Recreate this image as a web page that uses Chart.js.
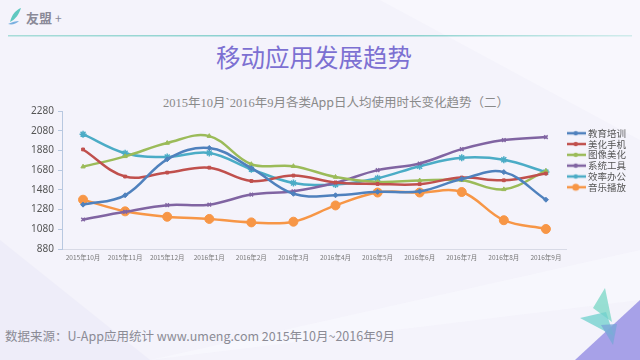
<!DOCTYPE html>
<html><head><meta charset="utf-8">
<script src="https://cdn.jsdelivr.net/npm/chart.js@4"></script>
<style>
html,body{margin:0;padding:0;width:640px;height:360px;overflow:hidden;background:#f4f3fb;font-family:"Noto Sans CJK SC","Noto Sans",sans-serif;}
#bg{position:absolute;left:0;top:0;}
#wrap{position:absolute;left:0;top:101px;width:640px;height:166px;}
.t{position:absolute;white-space:nowrap;}
</style></head><body>
<svg id="bg" width="640" height="360">
<defs>
<linearGradient id="hl" x1="0" x2="1" y1="0" y2="0">
<stop offset="0" stop-color="#9fdad5" stop-opacity="0.9"/>
<stop offset="0.32" stop-color="#8fd3d0"/>
<stop offset="0.5" stop-color="#7fc4d8"/>
<stop offset="0.66" stop-color="#8fd3d0"/>
<stop offset="1" stop-color="#b6e4e0" stop-opacity="0.6"/>
</linearGradient>
</defs>
<polygon points="0,240 0,360 150,360" fill="#eeedf9"/>
<polygon points="380,0 640,0 640,140" fill="#f8f7fd"/>
<polygon points="150,360 640,300 640,250" fill="#f8f8fd" opacity="0.7"/>
<rect x="8" y="35" width="624" height="1.5" fill="url(#hl)"/>
<polygon points="575,360 640,300 640,360" fill="#a7a1e8"/>
<polygon points="593,308 605,288 612,322" fill="#7fd8c8" opacity="0.8"/>
<polygon points="580,318 606,312 614,336" fill="#6fd0cc" opacity="0.75"/>
<polygon points="601,325 617,324 613,345" fill="#7aa6d8" opacity="0.8"/>
<path d="M10,22 C12,14 16,10 21,8 C19,14 16,19 10,22 Z" fill="#5fc8c0"/>
<path d="M8,24 C12,22 16,21 19,21 C16,24 12,25 8,24 Z" fill="#7ab0e0"/>
</svg>
<div class="t" style="left:26px;top:8px;font-size:13px;font-weight:bold;color:#8a8a98;">友盟<span style="font-weight:normal;font-size:12px;margin-left:3px;">+</span></div>
<div class="t" style="left:0;width:628px;text-align:center;top:41px;font-size:24.5px;color:#7c70d2;line-height:32px;">移动应用发展趋势</div>
<div class="t" style="left:0;width:672px;text-align:center;top:93px;font-size:12.5px;color:#8a8a8a;font-family:'Liberation Serif','Noto Sans CJK SC',serif;line-height:18px;">2015年10月`2016年9月各类<span style="font-family:'Noto Sans CJK SC'">App</span>日人均使用时长变化趋势（二）</div>
<div class="t" style="left:5px;top:327px;font-size:12.5px;color:#8b8b95;line-height:18px;">数据来源：U-App应用统计 www.umeng.com 2015年10月~2016年9月</div>
<div id="wrap"><canvas id="c" width="640" height="166"></canvas></div>
<script>
const categories = ['2015年10月','2015年11月','2015年12月','2016年1月','2016年2月','2016年3月','2016年4月','2016年5月','2016年6月','2016年7月','2016年8月','2016年9月'];
const seriesNames = ['教育培训','美化手机','图像美化','系统工具','效率办公','音乐播放'];
const eduValues    = [1330,1425,1790,1905,1700,1440,1425,1460,1465,1590,1660,1380];
const beautyPhone  = [1890,1615,1655,1705,1570,1625,1555,1540,1538,1605,1577,1645];
const imageBeauty  = [1715,1820,1955,2025,1740,1720,1610,1560,1575,1577,1485,1672];
const systemTools  = [1180,1257,1325,1330,1432,1465,1552,1680,1748,1893,1985,2015];
const officeValues = [2045,1852,1814,1855,1690,1550,1535,1598,1720,1805,1785,1660];
const musicValues  = [1380,1262,1207,1185,1150,1157,1322,1453,1453,1458,1172,1083];
const yTicks = [880,1080,1280,1480,1680,1880,2080,2280];

const colors = ['#4f81bd','#c0504d','#9bbb59','#8064a2','#4bacc6','#f79646'];
const styles = ['rectRot','rect','triangle','crossRot','star','circle'];
const radii = [2.5,2,2.5,2.5,3.5,4.5];
const values = [eduValues,beautyPhone,imageBeauty,systemTools,officeValues,musicValues];

function legendIcon(i){
  const cv=document.createElement('canvas'); cv.width=20; cv.height=10;
  const x=cv.getContext('2d');
  x.strokeStyle=colors[i]; x.lineWidth=2.5; x.beginPath(); x.moveTo(0,5); x.lineTo(20,5); x.stroke();
  x.fillStyle=colors[i]; x.beginPath(); x.arc(10,5,i===5?3.5:2.2,0,Math.PI*2); x.fill();
  return cv;
}
const icons = seriesNames.map((_,i)=>legendIcon(i));

const datasets = seriesNames.map((n,i)=>({
  label:n, data:values[i], borderColor:colors[i], backgroundColor:colors[i],
  borderWidth:2.5, tension:0.38, pointStyle:styles[i], pointRadius:radii[i],
  pointBorderWidth: styles[i]==='star'||styles[i]==='crossRot'?1.5:1, fill:false
}));

new Chart(document.getElementById('c'),{
  type:'line',
  data:{labels:categories,datasets},
  options:{
    responsive:false, animation:false,
    layout:{padding:{left:0,right:4,top:9,bottom:0}},
    plugins:{
      tooltip:{enabled:false},
      legend:{
        position:'right', align:'start', fullSize:false,
        title:{display:true,text:'',padding:{top:15,bottom:0},font:{size:1}},
        labels:{
          font:{family:'"Noto Sans CJK SC"',size:9.5,lineHeight:1.0},
          color:'#555', padding:1.3, usePointStyle:true, pointStyleWidth:15, boxHeight:9,
          generateLabels:(chart)=>chart.data.datasets.map((d,i)=>({
            text:d.label, pointStyle:icons[i], fillStyle:colors[i], strokeStyle:colors[i],
            lineWidth:0, hidden:false, datasetIndex:i, fontColor:'#555'
          }))
        }
      }
    },
    scales:{
      x:{
        offset:true,
        grid:{display:false, drawTicks:false},
        border:{display:true,color:'#d8dae6',width:1},
        ticks:{font:{family:'"Noto Sans CJK SC"',size:6.5},color:'#777',maxRotation:0,autoSkip:false,padding:5},
        afterFit:(s)=>{s.height=18;}
      },
      y:{
        min:880,max:2280,
        afterBuildTicks:(s)=>{s.ticks=yTicks.map(v=>({value:v}));},
        grid:{drawOnChartArea:false,drawTicks:true,tickLength:4,color:'#b8c8e0'},
        border:{display:true,color:'#b8c8e0',width:1},
        ticks:{font:{family:'"Noto Sans"',size:10},color:'#555',padding:4,callback:(v)=>String(v)},
        afterFit:(s)=>{s.width=62;}
      }
    }
  }
});
</script>
</body></html>
